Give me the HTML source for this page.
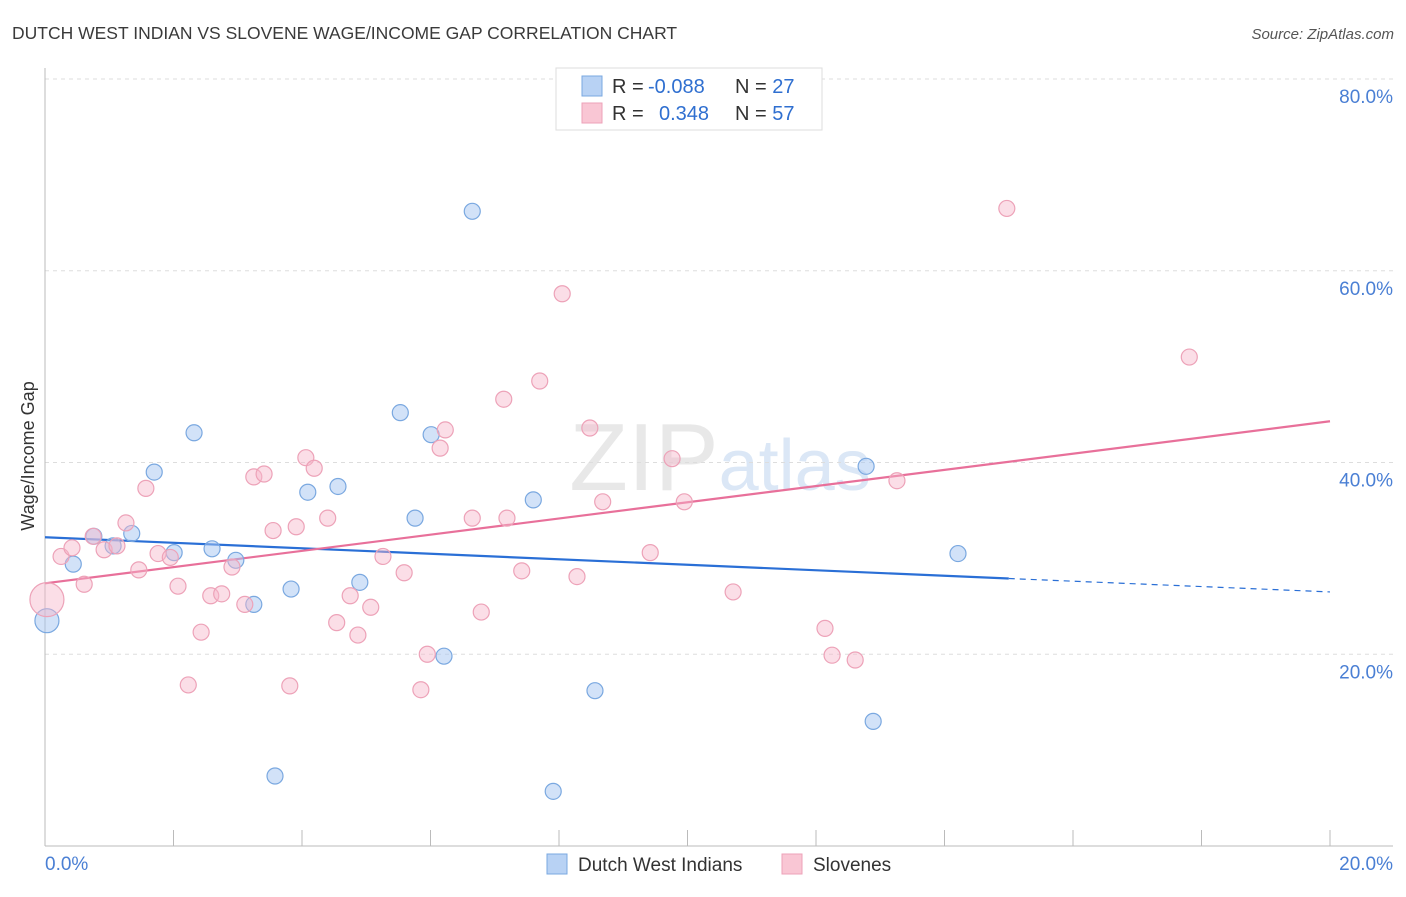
<!DOCTYPE html>
<html><head><meta charset="utf-8"><style>
body{margin:0;background:#fff;font-family:"Liberation Sans",sans-serif;}
svg text{font-family:"Liberation Sans",sans-serif;}
</style></head><body>
<svg id="chart" width="1406" height="892" viewBox="0 0 1406 892">
<text x="12" y="39" font-size="17.5" fill="#3a3a3a">DUTCH WEST INDIAN VS SLOVENE WAGE/INCOME GAP CORRELATION CHART</text>
<text x="1394" y="39" font-size="15" font-style="italic" fill="#555" text-anchor="end">Source: ZipAtlas.com</text>
<text x="34" y="456" font-size="18" fill="#333" text-anchor="middle" transform="rotate(-90 34 456)">Wage/Income Gap</text>
<text x="720" y="490" font-size="96" fill="#e8e8e8" text-anchor="middle" font-family="Liberation Serif">ZIP<tspan fill="#dbe7f6" font-family="Liberation Sans" font-size="72">atlas</tspan></text>
<g id="grid"></g><g id="axes"></g><g id="lines"></g><g id="pts"></g>
<g>
<rect x="556" y="68" width="266" height="62" fill="#fff" stroke="#ddd"/>
<rect x="582" y="76" width="20" height="20" fill="#b8d2f4" stroke="#7aa8e0"/>
<rect x="582" y="103" width="20" height="20" fill="#f9c6d4" stroke="#eda2b8"/>
<text x="612" y="93" font-size="20" fill="#333">R = <tspan fill="#2f6fd0" x="648">-0.088</tspan><tspan x="735">N = </tspan><tspan fill="#2f6fd0">27</tspan></text>
<text x="612" y="120" font-size="20" fill="#333">R = <tspan fill="#2f6fd0" x="659">0.348</tspan><tspan x="735">N = </tspan><tspan fill="#2f6fd0">57</tspan></text>
</g>
<g>
<rect x="547" y="854" width="20" height="20" fill="#b8d2f4" stroke="#7aa8e0"/>
<text x="578" y="871" font-size="19" fill="#333">Dutch West Indians</text>
<rect x="782" y="854" width="20" height="20" fill="#f9c6d4" stroke="#eda2b8"/>
<text x="813" y="871" font-size="19" fill="#333">Slovenes</text>
</g>
</svg>
<script>
const blueX=[0.03,0.44,0.76,1.06,1.35,1.70,2.01,2.32,2.60,2.97,3.25,3.58,3.83,4.09,4.56,4.90,5.53,5.76,6.01,6.21,6.65,7.60,7.91,8.56,12.78,12.89,14.21];
const blueY=[23.5,29.4,32.3,31.3,32.6,39.0,30.6,43.1,31.0,29.8,25.2,7.3,26.8,36.9,37.5,27.5,45.2,34.2,42.9,19.8,66.2,36.1,5.7,16.2,39.6,13.0,30.5];
const pinkX=[0.03,0.25,0.42,0.61,0.75,0.92,1.12,1.26,1.46,1.57,1.76,1.95,2.07,2.23,2.43,2.58,2.75,2.91,3.11,3.25,3.41,3.55,3.81,3.91,4.06,4.19,4.40,4.54,4.75,4.87,5.07,5.26,5.59,5.85,5.95,6.15,6.23,6.79,6.65,7.14,7.19,7.42,7.70,8.05,8.28,8.48,8.68,9.42,9.76,9.95,10.71,12.14,12.25,12.61,13.26,14.97,17.81];
const pinkY=[25.7,30.2,31.1,27.3,32.3,30.9,31.3,33.7,28.8,37.3,30.5,30.1,27.1,16.8,22.3,26.1,26.3,29.1,25.2,38.5,38.8,32.9,16.7,33.3,40.5,39.4,34.2,23.3,26.1,22.0,24.9,30.2,28.5,16.3,20.0,41.5,43.4,24.4,34.2,46.6,34.2,28.7,48.5,57.6,28.1,43.6,35.9,30.6,40.4,35.9,26.5,22.7,19.9,19.4,38.1,66.5,51.0];
const yTicks=[20,40,60,80];
const blueTrend=[32.2,27.9,26.5];
const pinkTrend=[27.4,44.3];
const NS='http://www.w3.org/2000/svg';
const sx=v=>45+v/20*1285, sy=v=>846-v/20*191.75;
function mk(tag,attrs,parent){const e=document.createElementNS(NS,tag);for(const k in attrs)e.setAttribute(k,attrs[k]);document.getElementById(parent).appendChild(e);return e;}
yTicks.forEach(t=>{
 const l=mk('line',{x1:45,x2:1393,y1:sy(t),y2:sy(t),stroke:'#ddd','stroke-dasharray':'4 4'},'grid');
 
 
 const tx=mk('text',{x:1393,y:sy(t)+24,'font-size':19,fill:'#4a7fd4','text-anchor':'end'},'grid');
 tx.textContent=t.toFixed(1)+'%';
 
 
});
mk('line',{x1:45,x2:45,y1:68,y2:846,stroke:'#bbb'},'axes');
mk('line',{x1:45,x2:1393,y1:846,y2:846,stroke:'#bbb'},'axes');
for(let i=0;i<=10;i++){const t=mk('line',{x1:sx(i*2),x2:sx(i*2),y1:830,y2:846,stroke:'#bbb'},'axes');
 
 }
let a=mk('text',{x:45,y:870,'font-size':19,fill:'#4a7fd4'},'axes');a.textContent='0.0%';


a=mk('text',{x:1393,y:870,'font-size':19,fill:'#4a7fd4','text-anchor':'end'},'axes');a.textContent='20.0%';


blueX.forEach((x,i)=>{const c=mk('circle',{cx:sx(x),cy:sy(blueY[i]),r:i==0?12:8,fill:'rgba(165,198,242,0.5)',stroke:'#7aa8e0','stroke-width':1.2},'pts');
 
 });
pinkX.forEach((x,i)=>{const c=mk('circle',{cx:sx(x),cy:sy(pinkY[i]),r:i==0?17:8,fill:'rgba(246,182,202,0.45)',stroke:'#eda2b8','stroke-width':1.2},'pts');
 
 });
let ln=mk('line',{x1:sx(0),y1:sy(blueTrend[0]),x2:sx(15),y2:sy(blueTrend[1]),stroke:'#2a6fd6','stroke-width':2.2},'lines');


ln=mk('line',{x1:sx(15),y1:sy(blueTrend[1]),x2:sx(20),y2:sy(blueTrend[2]),stroke:'#2a6fd6','stroke-width':1.2,'stroke-dasharray':'6 5'},'lines');


ln=mk('line',{x1:sx(0),y1:sy(pinkTrend[0]),x2:sx(20),y2:sy(pinkTrend[1]),stroke:'#e8709a','stroke-width':2.2},'lines');


</script>
</body></html>
